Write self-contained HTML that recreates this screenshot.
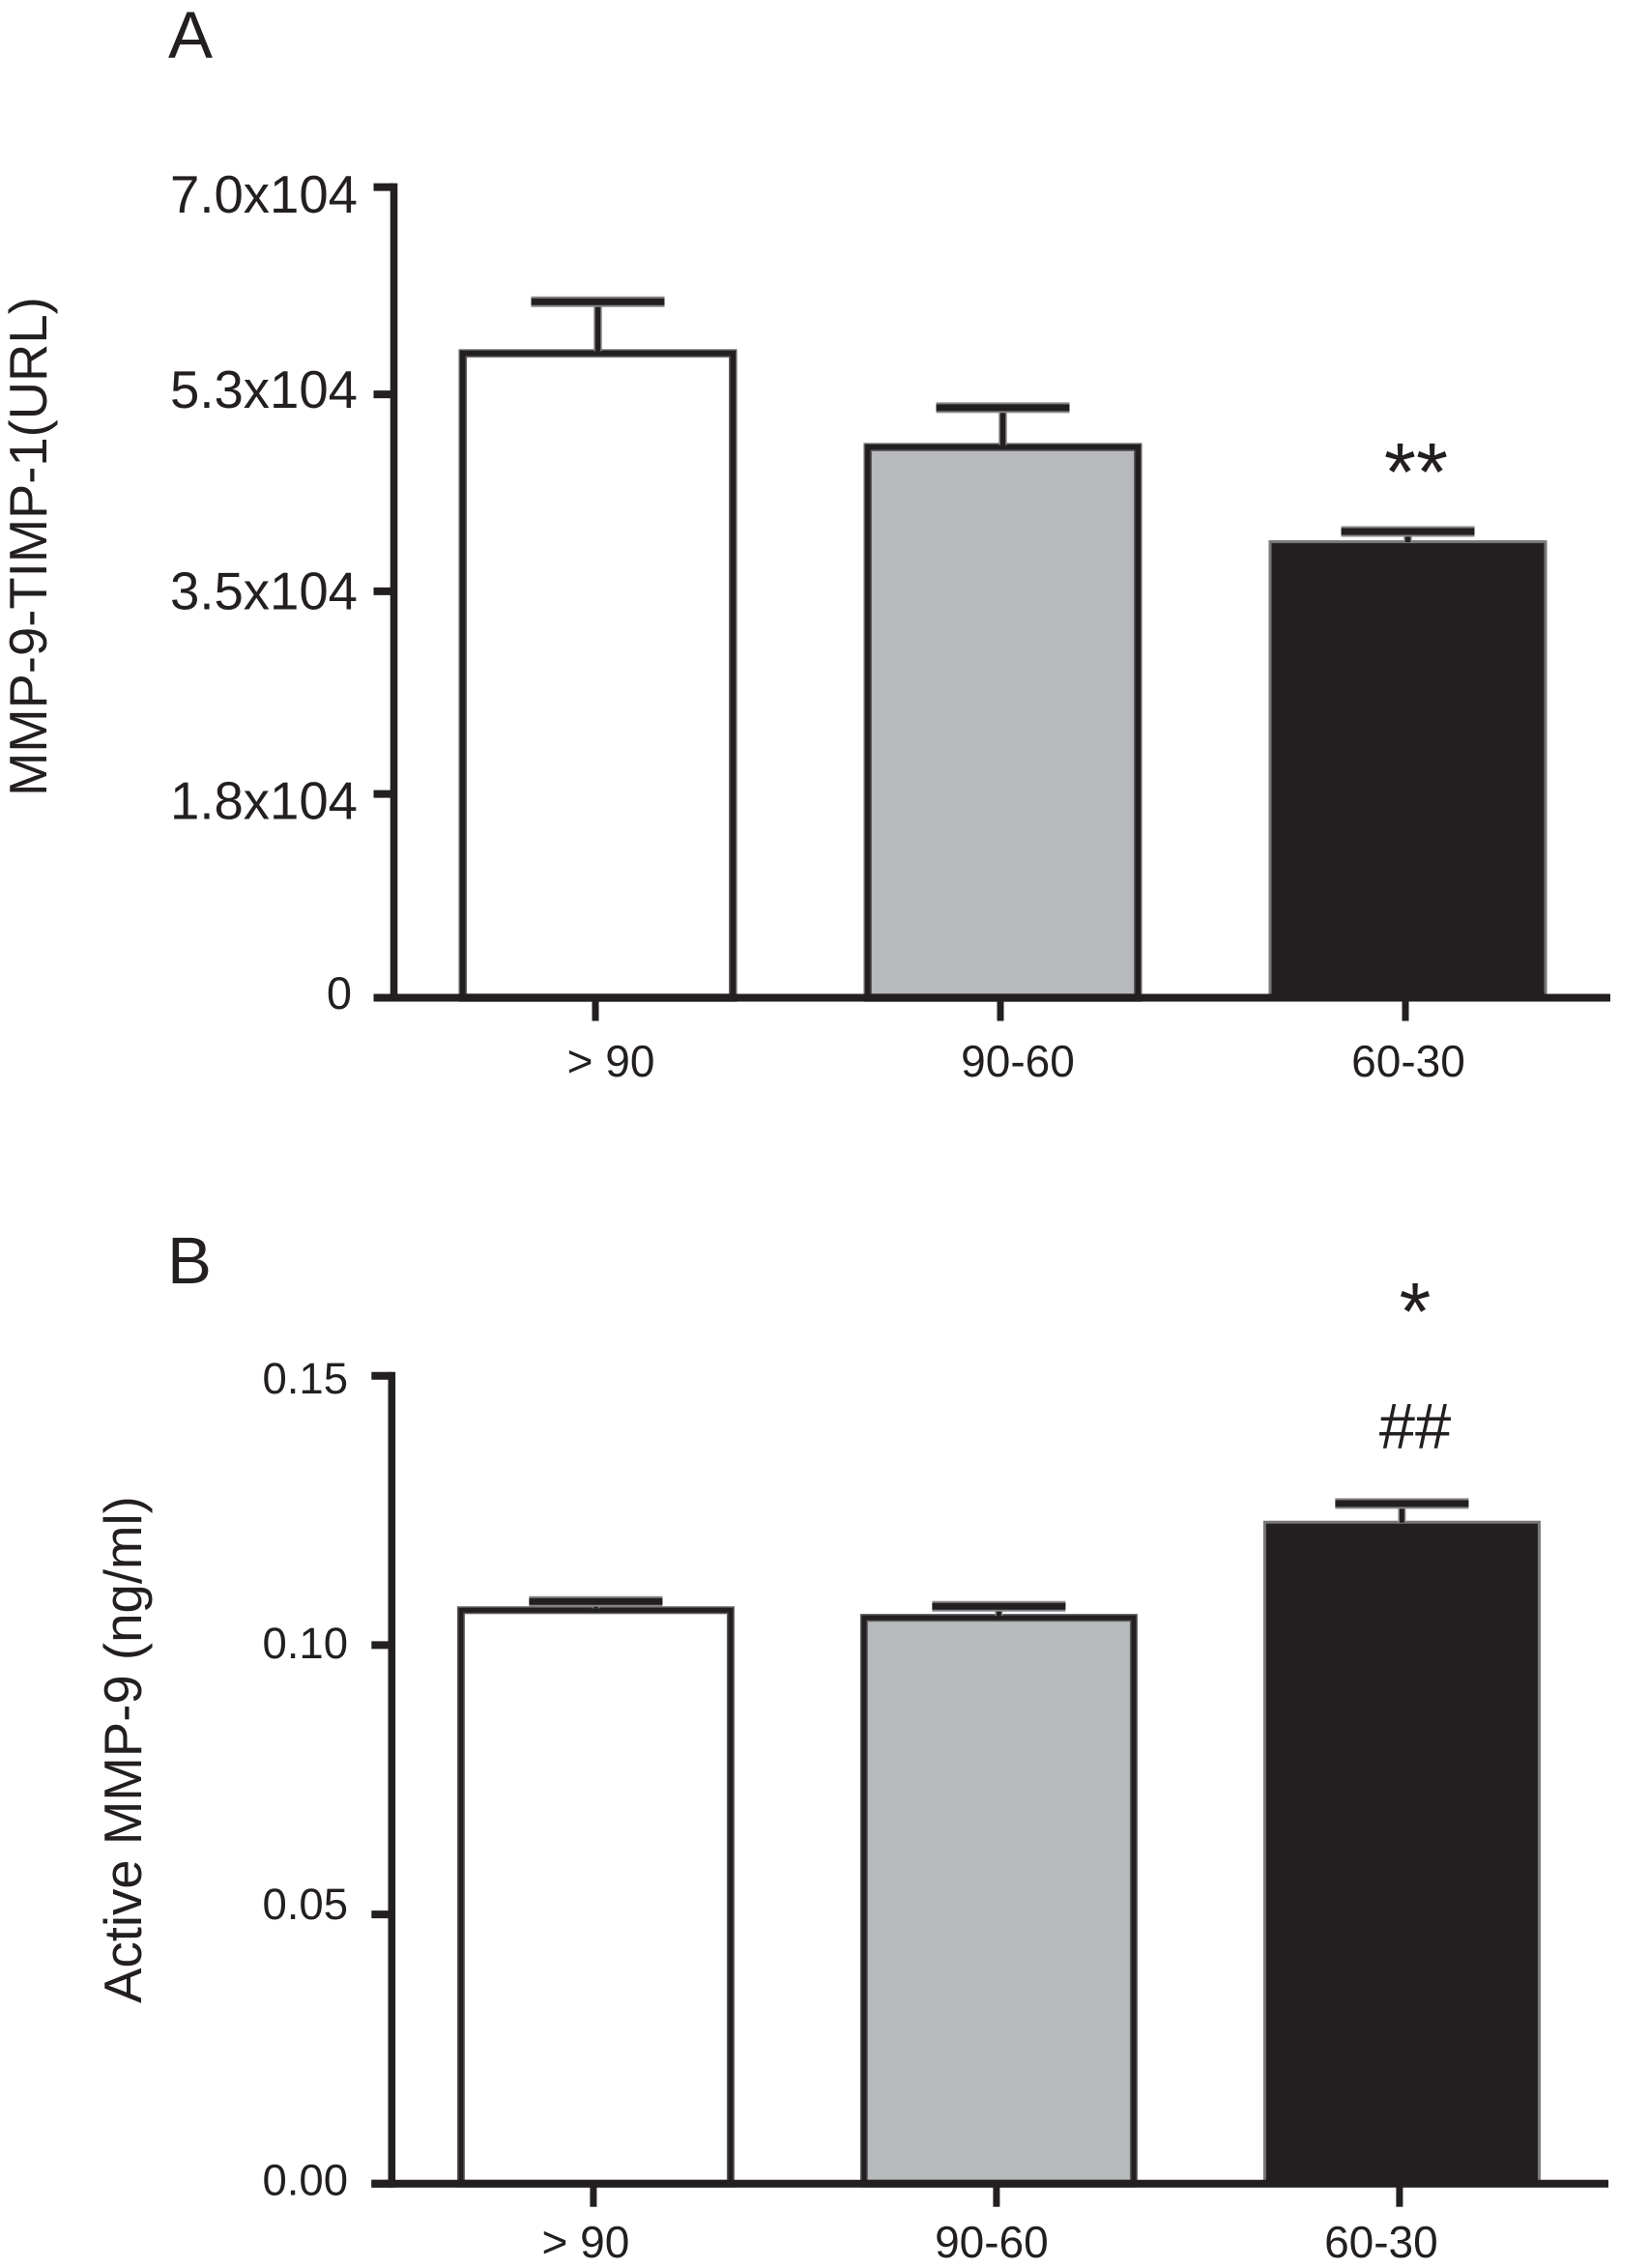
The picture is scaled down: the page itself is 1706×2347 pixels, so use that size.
<!DOCTYPE html>
<html lang="en">
<head>
<meta charset="utf-8">
<title>MMP-9-TIMP-1 and Active MMP-9 bar charts</title>
<style>
  html, body { margin: 0; padding: 0; background: #ffffff; }
  svg { display: block; }
  text { font-family: "Liberation Sans", sans-serif; fill: #231f20; }
</style>
</head>
<body>
<svg id="figure" xmlns="http://www.w3.org/2000/svg" width="1706" height="2347" viewBox="0 0 1706 2347">
  <rect x="0" y="0" width="1706" height="2347" fill="#ffffff"/>
  <text x="174" y="60" font-size="69">A</text>
  <text x="173" y="1328" font-size="69">B</text>
  <text transform="translate(48 824) rotate(-90)" font-size="54.4">MMP-9-TIMP-1(URL)</text>
  <text transform="translate(146 2073) rotate(-90)" font-size="54.6">Active MMP-9 (ng/ml)</text>
  <text x="1465" y="518" font-size="85" text-anchor="middle">**</text>
  <text x="1464" y="1386" font-size="84" text-anchor="middle">*</text>
  <text x="1464" y="1499" font-size="67" text-anchor="middle">##</text>
</svg>
<script>
// Data
const categories = ['> 90', '90-60', '60-30'];

const valuesA = [56000, 47900, 39500];
const errorTopsA = [60100, 50950, 40260];
const tickValuesA = [0, 17600, 35100, 52100, 70000];
const tickLabelsA = ['0', '1.8x104', '3.5x104', '5.3x104', '7.0x104'];

const valuesB = [0.1072, 0.1058, 0.1231];
const errorTopsB = [0.1081, 0.1072, 0.1263];
const tickValuesB = [0, 0.05, 0.10, 0.15];
const tickLabelsB = ['0.00', '0.05', '0.10', '0.15'];

const barFills = ['#ffffff', '#b8b9bc', '#231f20'];
const INK = '#231f20';
const svg = document.getElementById('figure');
const NS = 'http://www.w3.org/2000/svg';

function setAttrs(node, attrs) {
  for (const k in attrs) node.setAttribute(k, attrs[k]);
}

function drawChart(opt) {
  const yScale = v => opt.y0 - (v / opt.yMax) * (opt.y0 - opt.yTop);
  const xScale = i => opt.xFirst + opt.xStep * i;

  const group = document.createElementNS(NS, 'g');
  
  
  svg.appendChild(group);

  // bars
  opt.values.forEach((v, i) => {
    const left = xScale(i) - opt.barWidth / 2;
    const top = yScale(v);
    const h = opt.y0 - top;
    const w = opt.barWidth;
    const inset = opt.barStroke / 2;

    const bar = document.createElementNS(NS, 'rect');
    
    
    const dark = barFills[i] === INK;
    setAttrs(bar, {
      x: dark ? left + 1.5 : left + inset,
      y: dark ? top + 1.5 : top + inset,
      width: dark ? w - 3 : w - opt.barStroke,
      height: dark ? h - 1.5 : h - inset,
      fill: barFills[i],
      stroke: dark ? '#77777a' : '#5d5d60',
      'stroke-width': dark ? 3 : opt.barStroke
    });
    group.appendChild(bar);

    if (!dark) {
      const core = document.createElementNS(NS, 'rect');
      
      
      setAttrs(core, {
        x: left + inset,
        y: top + inset,
        width: w - opt.barStroke,
        height: h - inset,
        fill: 'none',
        stroke: INK,
        'stroke-width': opt.barStroke - 3
      });
      group.appendChild(core);
    }

    // error bar
    const cx = xScale(i);
    const capY = yScale(opt.errorTops[i]);

    const stemHalo = document.createElementNS(NS, 'line');
    
    
    setAttrs(stemHalo, { x1: cx, x2: cx, y1: capY, y2: top + 2, stroke: '#8a8a8d', 'stroke-width': opt.stemWidth + 3 });
    group.appendChild(stemHalo);

    const stem = document.createElementNS(NS, 'line');
    
    
    setAttrs(stem, { x1: cx, x2: cx, y1: capY, y2: top + 2, stroke: INK, 'stroke-width': opt.stemWidth });
    group.appendChild(stem);

    const capHalo = document.createElementNS(NS, 'line');
    
    
    setAttrs(capHalo, { x1: cx - opt.capWidth / 2, x2: cx + opt.capWidth / 2, y1: capY, y2: capY, stroke: '#85858a', 'stroke-width': 11 });
    group.appendChild(capHalo);

    const cap = document.createElementNS(NS, 'line');
    
    
    setAttrs(cap, { x1: cx - opt.capWidth / 2, x2: cx + opt.capWidth / 2, y1: capY, y2: capY, stroke: INK, 'stroke-width': 7 });
    group.appendChild(cap);
  });

  // y axis line
  const yAxis = document.createElementNS(NS, 'line');
  
  
  setAttrs(yAxis, { x1: opt.axisX, x2: opt.axisX, y1: opt.yTop - 4, y2: opt.y0 + 4, stroke: INK, 'stroke-width': 7.6 });
  group.appendChild(yAxis);

  // x axis line
  const xAxis = document.createElementNS(NS, 'line');
  
  
  setAttrs(xAxis, { x1: opt.axisX - 21, x2: opt.xAxisEnd, y1: opt.y0, y2: opt.y0, stroke: INK, 'stroke-width': 8 });
  group.appendChild(xAxis);

  // y ticks and labels
  opt.tickValues.forEach((t, i) => {
    const ty = yScale(t);

    const tick = document.createElementNS(NS, 'line');
    
    
    setAttrs(tick, { x1: opt.axisX - 21, x2: opt.axisX, y1: ty, y2: ty, stroke: INK, 'stroke-width': 8 });
    group.appendChild(tick);

    const label = document.createElementNS(NS, 'text');
    
    
    setAttrs(label, {
      x: opt.labelRight[i],
      y: ty + opt.labelDrop[i],
      'font-size': opt.labelSize[i],
      'text-anchor': 'end'
    });
    label.textContent = opt.tickLabels[i];
    group.appendChild(label);
  });

  // x ticks and labels
  categories.forEach((c, i) => {
    const tx = xScale(i) + opt.tickShift;

    const tick = document.createElementNS(NS, 'line');
    
    
    setAttrs(tick, { x1: tx, x2: tx, y1: opt.y0, y2: opt.y0 + 24, stroke: INK, 'stroke-width': 7 });
    group.appendChild(tick);

    const label = document.createElementNS(NS, 'text');
    
    
    setAttrs(label, {
      x: tx + opt.catShift[i],
      y: opt.catBaseline,
      'font-size': 46,
      'text-anchor': 'middle'
    });
    label.textContent = c;
    group.appendChild(label);
  });
}

drawChart({
  id: 'panel-a',
  values: valuesA,
  errorTops: errorTopsA,
  tickValues: tickValuesA,
  tickLabels: tickLabelsA,
  yMax: 70000, y0: 1032.5, yTop: 193.6,
  xFirst: 618.5, xStep: 419, tickShift: -2.5,
  barWidth: 288, barStroke: 8.5, stemWidth: 5.5, capWidth: 138,
  axisX: 407.5, xAxisEnd: 1666,
  labelRight: [364, 370, 370, 370, 370],
  labelDrop: [11.5, 25.8, 18.6, 14, 26.4],
  labelSize: [47, 54.5, 54.5, 54.5, 54.5],
  catShift: [16, 18, 3],
  catBaseline: 1114
});

drawChart({
  id: 'panel-b',
  values: valuesB,
  errorTops: errorTopsB,
  tickValues: tickValuesB,
  tickLabels: tickLabelsB,
  yMax: 0.15, y0: 2259.7, yTop: 1423.8,
  xFirst: 616.4, xStep: 417, tickShift: -2.5,
  barWidth: 287, barStroke: 8, stemWidth: 5, capWidth: 138,
  axisX: 405.3, xAxisEnd: 1664,
  labelRight: [360, 360, 360, 360],
  labelDrop: [12, 5, 13.5, 18],
  labelSize: [45.5, 45.5, 45.5, 45.5],
  catShift: [-8, -5, -19],
  catBaseline: 2336
});
</script>
</body>
</html>
